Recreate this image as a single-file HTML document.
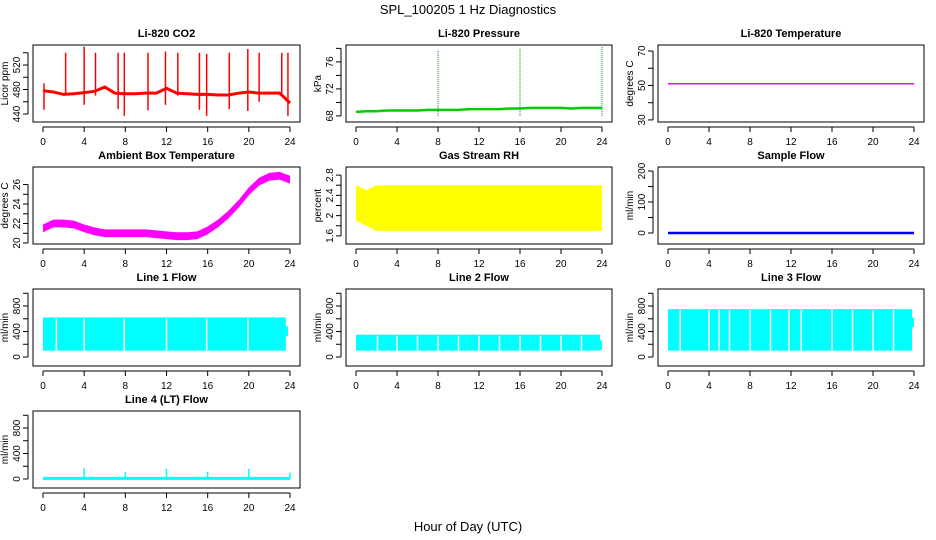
<!DOCTYPE html>
<html><head><meta charset="utf-8"><style>
body{margin:0;background:#fff}
svg{display:block;font-family:"Liberation Sans",sans-serif}
</style></head><body>
<svg id="c" width="936" height="540" viewBox="0 0 936 540" xmlns="http://www.w3.org/2000/svg">
<text x="468" y="14" text-anchor="middle" font-size="13">SPL_100205  1 Hz Diagnostics</text>
<text x="468" y="531" text-anchor="middle" font-size="13">Hour of Day (UTC)</text>
</svg>
<script>
// ---- data ----
const xTicks = [0,4,8,12,16,20,24];
const hours = [0,1,2,3,4,5,6,7,8,9,10,11,12,13,14,15,16,17,18,19,20,21,22,23,24];
const co2Base = [478,476,472,473,475,477,484,474,473,473,474,474,482,474,473,472,472,471,471,474,476,474,474,474,458];
const co2SpikeHours = [0.1,2.2,4.0,5.1,7.3,7.9,10.2,11.9,13.1,15.2,15.9,18.1,19.9,21.0,23.2,23.8];
const co2SpikeHigh = [490,540,550,540,540,540,540,542,540,540,538,540,546,540,540,540];
const co2SpikeLow = [447,470,455,470,448,437,446,455,470,447,437,448,445,460,470,437];
const presBase = [68.6,68.7,68.7,68.8,68.8,68.8,68.8,68.9,68.9,68.9,68.9,69.0,69.0,69.0,69.0,69.1,69.1,69.2,69.2,69.2,69.2,69.1,69.2,69.2,69.2];
const presSpikeHours = [8,16,24];
const presSpikeHigh = [77.8,78.1,78.2];
const li820Temp = [51,51,51,51,51,51,51,51,51,51,51,51,51,51,51,51,51,51,51,51,51,51,51,51,51];
const ambTemp = [21.5,22.0,22.0,21.9,21.5,21.2,21.0,21.0,21.0,21.0,21.0,20.9,20.8,20.7,20.7,20.8,21.3,22.0,22.9,24.0,25.3,26.3,26.8,26.9,26.5];
const rhLow = [1.9,1.8,1.7,1.7,1.7,1.7,1.7,1.7,1.7,1.7,1.7,1.7,1.7,1.7,1.7,1.7,1.7,1.7,1.7,1.7,1.7,1.7,1.7,1.7,1.7];
const rhHigh = [2.6,2.5,2.6,2.6,2.6,2.6,2.6,2.6,2.6,2.6,2.6,2.6,2.6,2.6,2.6,2.6,2.6,2.6,2.6,2.6,2.6,2.6,2.6,2.6,2.6];
const sampleFlow = [0,0,0,0,0,0,0,0,0,0,0,0,0,0,0,0,0,0,0,0,0,0,0,0,0];
const line1Low = 100, line1High = 620, line1End = [23.6, 480];
const line1Gaps = [1.3,4.0,7.9,12.0,15.9,19.9];
const line2Low = 100, line2High = 350, line2End = [23.8, 260];
const line2Gaps = [2.1,4.0,6.0,8.0,10.0,12.0,14.0,16.0,18.0,20.0,22.0];
const line3Low = 100, line3High = 750, line3End = [23.8, 620];
const line3Gaps = [1.2,4.0,5.0,6.0,8.0,10.0,11.8,13.0,16.0,18.0,20.0,22.0];
const line4Base = 10;
const line4SpikeHours = [4,8,12,16,20,24];
const line4SpikeVals = [170,110,160,110,160,100];

// ---- layout ----
const colL=[33,346,658], colR=[300,612,924], x0s=[43,356,668], x24s=[290,602,914];
const rowT=[45,167,289,411], rowB=[122,244,366,488];
const NS="http://www.w3.org/2000/svg";
const svg=document.getElementById('c');
function mk(tag,at,parent){const e=document.createElementNS(NS,tag);for(const k in at)e.setAttribute(k,at[k]);(parent||svg).appendChild(e);return e;}

function panel(r,c,title,ylab,ymin,ymax,ticks,labelEvery,name){
  const g=mk('g',{});
  
  
  const L=colL[c],R=colR[c],T=rowT[r],B=rowB[r];
  const sx=h=>x0s[c]+(h/24)*(x24s[c]-x0s[c]);
  const sy=v=>B-(v-ymin)/(ymax-ymin)*(B-T);
  const t=mk('text',{x:(L+R)/2,y:T-8,'text-anchor':'middle','font-size':11,'font-weight':'bold'},g);t.textContent=title;
  
  
  const xa=mk('g',{},g);
  
  
  mk('line',{x1:sx(0),x2:sx(24),y1:B+5,y2:B+5,stroke:'#000'},xa);
  xTicks.forEach(h=>{mk('line',{x1:sx(h),x2:sx(h),y1:B+5,y2:B+10,stroke:'#000'},xa);
    const tx=mk('text',{x:sx(h),y:B+23,'text-anchor':'middle','font-size':10},xa);tx.textContent=h;});
  const ya=mk('g',{},g);
  
  
  mk('line',{x1:L-5,x2:L-5,y1:sy(ticks[0]),y2:sy(ticks[ticks.length-1]),stroke:'#000'},ya);
  ticks.forEach((v,i)=>{mk('line',{x1:L-5,x2:L-10,y1:sy(v),y2:sy(v),stroke:'#000'},ya);
    if(i%labelEvery===0){const ty=mk('text',{x:L-13,y:sy(v),'text-anchor':'middle','font-size':10,transform:`rotate(-90 ${L-13} ${sy(v)})`},ya);ty.textContent=v;}});
  const yl=mk('text',{x:L-25,y:(T+B)/2,'text-anchor':'middle','font-size':10,transform:`rotate(-90 ${L-25} ${(T+B)/2})`},g);yl.textContent=ylab;
  
  
  const data=mk('g',{},g);
  
  
  mk('rect',{x:L,y:T,width:R-L,height:B-T,fill:'none',stroke:'#000'},g);
  return {sx,sy,data};
}
function poly(p,xs,ys,color,w){return mk('polyline',{points:xs.map((h,i)=>p.sx(h)+','+p.sy(ys[i])).join(' '),fill:'none',stroke:color,'stroke-width':w},p.data);}
function band(p,xs,lo,hi,color){const pts=xs.map((h,i)=>p.sx(h)+','+p.sy(hi[i])).concat(xs.slice().reverse().map((h,j)=>{const i=xs.length-1-j;return p.sx(h)+','+p.sy(lo[i]);}));return mk('polygon',{points:pts.join(' '),fill:color},p.data);}
function vline(p,h,v1,v2,color,w,dash){const e=mk('line',{x1:p.sx(h),x2:p.sx(h),y1:p.sy(v1),y2:p.sy(v2),stroke:color,'stroke-width':w},p.data);if(dash)e.setAttribute('stroke-dasharray',dash);return e;}

let p=panel(0,0,'Li-820 CO2','Licor ppm',427,552.6,[440,460,480,500,520,540],2,'co2');
poly(p,hours,co2Base,'#f00',3);
co2SpikeHours.forEach((h,i)=>{vline(p,h,co2SpikeLow[i],co2SpikeHigh[i],'#f00',1.5);});
p=panel(0,1,'Li-820 Pressure','kPa',67.1,78.5,[68,70,72,74,76,78],2,'pressure');
poly(p,hours,presBase,'#0c0',2.5);
presSpikeHours.forEach((h,i)=>vline(p,h,68,presSpikeHigh[i],'#080',1,'1,1'));
p=panel(0,2,'Li-820 Temperature','degrees C',28.8,73.5,[30,40,50,60,70],2,'li820-temperature');
poly(p,hours,li820Temp,'#f0f',1.5);
p=panel(1,0,'Ambient Box Temperature','degrees C',19.9,27.8,[20,21,22,23,24,25,26],2,'ambient-temperature');
band(p,hours,ambTemp.map(v=>v-0.4),ambTemp.map(v=>v+0.4),'#f0f');
p=panel(1,1,'Gas Stream RH','percent',1.44,2.96,[1.6,1.8,2.0,2.2,2.4,2.6,2.8],2,'gas-stream-rh');
band(p,hours,rhLow,rhHigh,'#ff0');
p=panel(1,2,'Sample Flow','ml/min',-35.5,213,[0,50,100,150,200],2,'sample-flow');
poly(p,hours,sampleFlow,'#00f',2.5);
const fT=[0,200,400,600,800,1000];
function flow(r,c,title,name,lo,hi,end,gaps){
  const q=panel(r,c,title,'ml/min',-141,1067,fT,2,name);
  mk('rect',{x:q.sx(0),y:q.sy(hi),width:q.sx(end[0])-q.sx(0),height:q.sy(lo)-q.sy(hi),fill:'#0ff'},q.data);
  vline(q,end[0]+0.1,end[1]-150,end[1],'#0ff',2);
  gaps.forEach(h=>vline(q,h,lo,hi-15,'#fff',1.5));
}
flow(2,0,'Line 1 Flow','line1-flow',line1Low,line1High,line1End,line1Gaps);
flow(2,1,'Line 2 Flow','line2-flow',line2Low,line2High,line2End,line2Gaps);
flow(2,2,'Line 3 Flow','line3-flow',line3Low,line3High,line3End,line3Gaps);
p=panel(3,0,'Line 4 (LT) Flow','ml/min',-141,1067,fT,2,'line4-flow');
poly(p,[0,24],[line4Base,line4Base],'#0ff',3);
line4SpikeHours.forEach((h,i)=>vline(p,h,line4Base,line4SpikeVals[i],'#0ff',1.5));
</script>
</body></html>
